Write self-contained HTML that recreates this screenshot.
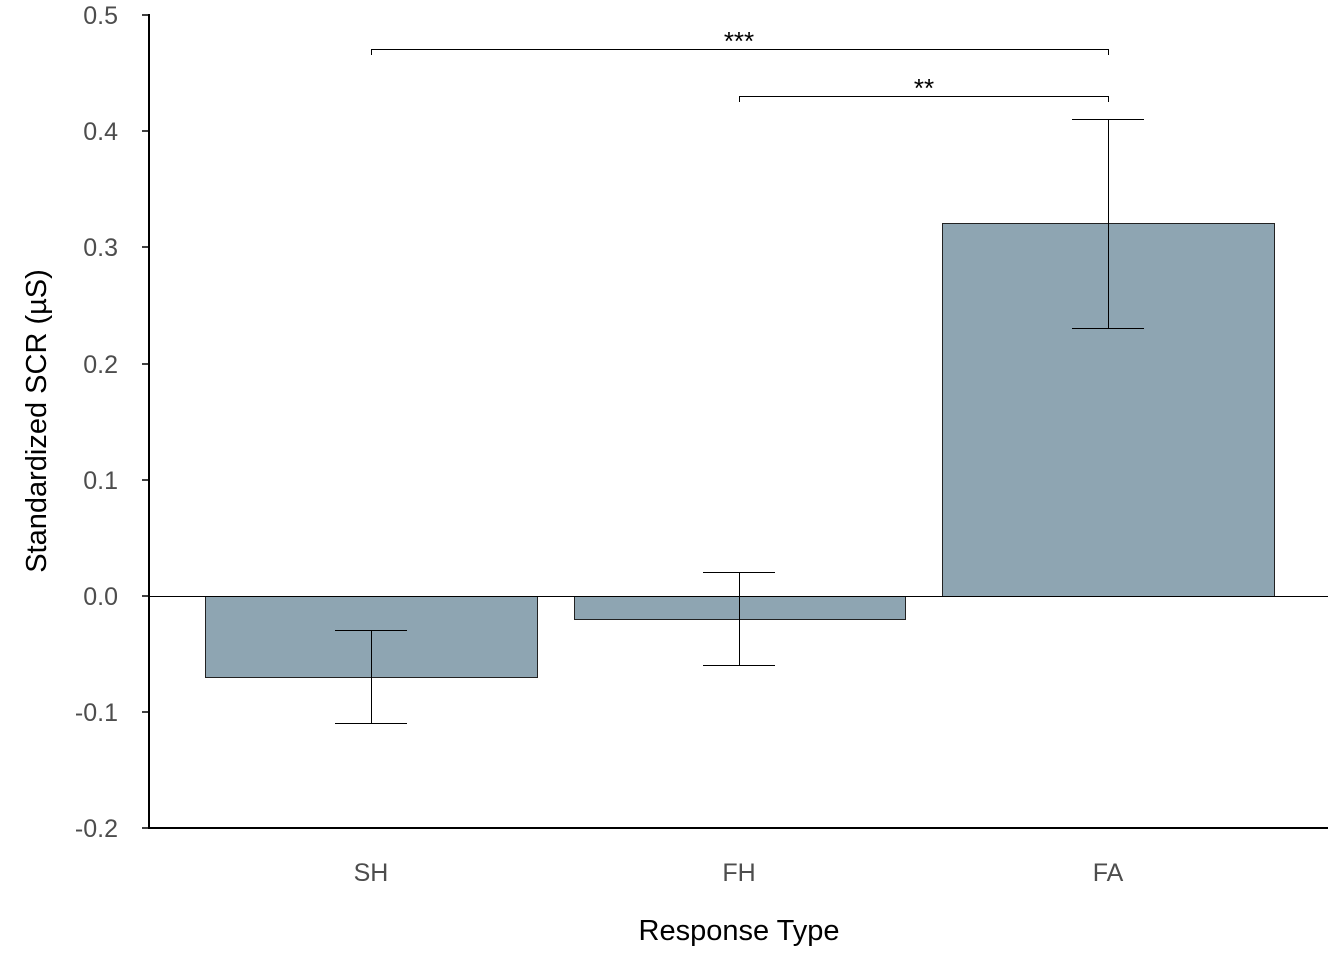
<!DOCTYPE html>
<html><head><meta charset="utf-8"><style>
html,body{margin:0;padding:0;background:#fff;}
svg{display:block;}
text{font-family:"Liberation Sans",Arial,sans-serif;}
</style></head><body>
<svg width="1344" height="960" viewBox="0 0 1344 960" xmlns="http://www.w3.org/2000/svg">
<rect width="1344" height="960" fill="#fff"/>
<g fill="#8ea5b2" stroke="#222" stroke-width="1">
<rect x="205.5" y="596.5" width="332" height="81"/>
<rect x="574.5" y="596.5" width="331" height="23"/>
<rect x="942.5" y="223.5" width="332" height="373"/>
</g>
<line x1="149" y1="596.5" x2="1328" y2="596.5" stroke="#000" stroke-width="1"/>
<g stroke="#000" stroke-width="1" fill="none">
<line x1="371.5" y1="630" x2="371.5" y2="723"/>
<line x1="335" y1="630.5" x2="407" y2="630.5"/>
<line x1="335" y1="723.5" x2="407" y2="723.5"/>
<line x1="739.5" y1="572" x2="739.5" y2="665"/>
<line x1="703" y1="572.5" x2="775" y2="572.5"/>
<line x1="703" y1="665.5" x2="775" y2="665.5"/>
<line x1="1108.5" y1="119" x2="1108.5" y2="328"/>
<line x1="1072" y1="119.5" x2="1144" y2="119.5"/>
<line x1="1072" y1="328.5" x2="1144" y2="328.5"/>
<polyline points="371.5,55 371.5,49.5 1108.5,49.5 1108.5,55"/>
<polyline points="739.5,102 739.5,96.5 1108.5,96.5 1108.5,102"/>
</g>
<text x="739" y="50" font-size="26" text-anchor="middle">***</text>
<text x="924" y="97" font-size="26" text-anchor="middle">**</text>
<g stroke="#000" stroke-width="2" fill="none">
<line x1="149" y1="14" x2="149" y2="829"/>
<line x1="148" y1="828" x2="1328" y2="828"/>
</g>
<g stroke="#000" stroke-width="1.5">
<line x1="142" y1="15" x2="149" y2="15"/>
<line x1="142" y1="131" x2="149" y2="131"/>
<line x1="142" y1="247" x2="149" y2="247"/>
<line x1="142" y1="364" x2="149" y2="364"/>
<line x1="142" y1="480" x2="149" y2="480"/>
<line x1="142" y1="596" x2="149" y2="596"/>
<line x1="142" y1="712" x2="149" y2="712"/>
<line x1="142" y1="828" x2="149" y2="828"/>
</g>
<g font-size="25" fill="#4d4d4d" text-anchor="end">
<text x="118" y="24">0.5</text>
<text x="118" y="140">0.4</text>
<text x="118" y="256">0.3</text>
<text x="118" y="373">0.2</text>
<text x="118" y="489">0.1</text>
<text x="118" y="605">0.0</text>
<text x="118" y="721">-0.1</text>
<text x="118" y="837">-0.2</text>
</g>
<g font-size="25" fill="#4d4d4d" text-anchor="middle">
<text x="371" y="881">SH</text>
<text x="739" y="881">FH</text>
<text x="1108" y="881">FA</text>
</g>
<text x="739" y="940" font-size="29" text-anchor="middle" fill="#000">Response Type</text>
<text transform="translate(46,421) rotate(-90)" font-size="29" text-anchor="middle" fill="#000">Standardized SCR (µS)</text>
</svg>
</body></html>
